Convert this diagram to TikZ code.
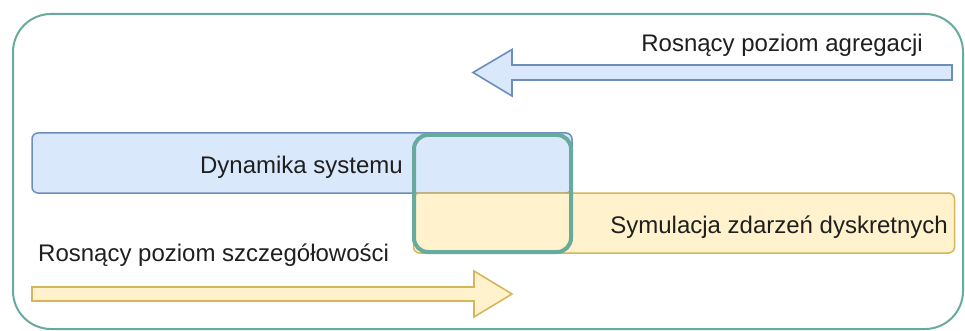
\documentclass[tikz,border=0pt]{standalone}
\usepackage{fontspec}
\setmainfont{Liberation Sans}
\definecolor{frame}{HTML}{67AB9F}
\definecolor{bluefill}{HTML}{DAE8FC}
\definecolor{bluedraw}{HTML}{6C8EBF}
\definecolor{yelfill}{HTML}{FFF2CC}
\definecolor{yeldraw}{HTML}{D6B656}
\definecolor{ink}{HTML}{1F1F1F}
\begin{document}
\begin{tikzpicture}[x=1pt,y=-1pt,
  lbl/.style={inner sep=0pt,text=ink,font=\fontsize{24}{28}\selectfont},
  bluebox/.style={draw=bluedraw,fill=bluefill,line width=1.5pt,rounded corners=6pt,inner sep=0pt},
  yelbox/.style={draw=yeldraw,fill=yelfill,line width=1.5pt,rounded corners=6pt,inner sep=0pt},
  overlapbox/.style={draw=frame,line width=4pt,rounded corners=14pt,inner sep=0pt},
  bluearrow/.style={draw=bluedraw,fill=bluefill,line width=1.6pt,line join=miter},
  yelarrow/.style={draw=yeldraw,fill=yelfill,line width=1.6pt,line join=miter}]
\useasboundingbox (0,0) rectangle (965,331);

% outer frame
\draw[frame,line width=2pt,rounded corners=38pt] (13,14) rectangle (963,329);

% arrow towards aggregation (pointing left)
\draw[bluearrow] (473,72.5) -- (512,49.5) -- (512,65) -- (952,65) -- (952,80)
  -- (512,80) -- (512,96) -- cycle;
\node[lbl,anchor=base east] (agg) at (923,52) {Rosnący poziom agregacji};

% arrow towards detail (pointing right)
\draw[yelarrow] (32,287) -- (474,287) -- (474,271) -- (512,294) -- (474,317)
  -- (474,301) -- (32,301) -- cycle;
\node[lbl,anchor=base west] (det) at (38,261) {Rosnący poziom szczegółowości};

% the two modelling approaches
\node[bluebox,minimum width=540pt,minimum height=60pt] (sd) at (302,163) {};
\node[yelbox,minimum width=541pt,minimum height=60pt] (des) at (684,223) {};
\node[lbl,anchor=base] (sdtxt) at (301.5,173) {Dynamika systemu};
\node[lbl,anchor=base east] (destxt) at (948,233) {Symulacja zdarzeń dyskretnych};

% overlap region
\node[overlapbox,minimum width=157pt,minimum height=117pt] (mix) at (492.5,193.5) {};
\end{tikzpicture}
\end{document}
